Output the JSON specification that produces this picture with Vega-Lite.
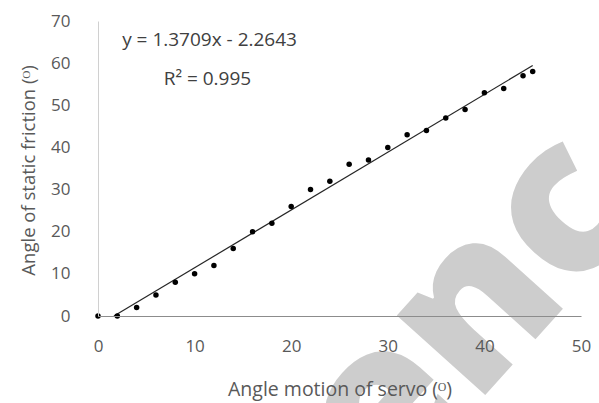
{
  "$schema": "https://vega.github.io/schema/vega-lite/v6.json",
  "width": 483,
  "height": 295,
  "autosize": "none",
  "padding": {"left": 98, "top": 21, "right": 18, "bottom": 87},
  "background": "white",
  "config": {"view": {"stroke": null}, "font": "Open Sans"},
  "datasets": {
    "points": [
      {"x": 0, "y": 0}, {"x": 2, "y": 0}, {"x": 4, "y": 2}, {"x": 6, "y": 5},
      {"x": 8, "y": 8}, {"x": 10, "y": 10}, {"x": 12, "y": 12}, {"x": 14, "y": 16},
      {"x": 16, "y": 20}, {"x": 18, "y": 22}, {"x": 20, "y": 26}, {"x": 22, "y": 30},
      {"x": 24, "y": 32}, {"x": 26, "y": 36}, {"x": 28, "y": 37}, {"x": 30, "y": 40},
      {"x": 32, "y": 43}, {"x": 34, "y": 44}, {"x": 36, "y": 47}, {"x": 38, "y": 49},
      {"x": 40, "y": 53}, {"x": 42, "y": 54}, {"x": 44, "y": 57}, {"x": 45, "y": 58}
    ],
    "trend": [{"x": 1.65, "y": 0}, {"x": 45, "y": 59.43}],
    "labels": [
      {"x": 2.5, "y": 65.5, "t": "y = 1.3709x - 2.2643"},
      {"x": 6.8, "y": 56.2, "t": "R² = 0.995"}
    ],
    "wm": [{"x": 38.5, "y": 0.3, "t": "enc"}]
  },
  "layer": [
    {
      "data": {"name": "wm"},
      "mark": {"type": "text", "angle": -48, "fontSize": 215, "fontWeight": 900, "font": "Open Sans", "color": "#cdcdcd", "align": "center", "baseline": "middle"},
      "encoding": {
        "x": {"field": "x", "type": "quantitative", "scale": {"domain": [0, 50], "nice": false}},
        "y": {"field": "y", "type": "quantitative", "scale": {"domain": [0, 70], "nice": false}},
        "text": {"field": "t"}
      }
    },
    {
      "data": {"name": "trend"},
      "mark": {"type": "line", "color": "#262626", "strokeWidth": 1.2},
      "encoding": {
        "x": {"field": "x", "type": "quantitative"},
        "y": {"field": "y", "type": "quantitative"}
      }
    },
    {
      "data": {"name": "points"},
      "mark": {"type": "circle", "color": "#000000", "opacity": 1, "size": 30},
      "encoding": {
        "x": {"field": "x", "type": "quantitative",
          "axis": {"title": "Angle motion of servo (ᴼ)", "values": [0, 10, 20, 30, 40, 50], "grid": false, "ticks": false, "tickSize": 0, "labelFlush": false,
            "labelPadding": 22, "labelFontSize": 17, "labelColor": "#595959", "labelFont": "Open Sans",
            "domainColor": "#8c8c8c", "domainWidth": 1,
            "titleFontSize": 19.5, "titleColor": "#595959", "titleFontWeight": "normal", "titleFont": "Open Sans",
            "titleY": 73, "titleBaseline": "middle", "zindex": 1}},
        "y": {"field": "y", "type": "quantitative",
          "axis": {"title": "Angle of static friction (ᴼ)", "values": [0, 10, 20, 30, 40, 50, 60, 70], "grid": false, "ticks": false, "tickSize": 0, "labelFlush": false,
            "labelPadding": 28, "labelFontSize": 17, "labelColor": "#595959", "labelFont": "Open Sans",
            "domainColor": "#d0d0d0", "domainWidth": 1,
            "titleFontSize": 18.5, "titleColor": "#595959", "titleFontWeight": "normal", "titleFont": "Open Sans",
            "titleX": -70, "titleY": 149, "titleBaseline": "middle", "zindex": 1}}
      }
    },
    {
      "data": {"name": "labels"},
      "mark": {"type": "text", "align": "left", "baseline": "middle", "fontSize": 19, "font": "Open Sans", "color": "#404040"},
      "encoding": {
        "x": {"field": "x", "type": "quantitative"},
        "y": {"field": "y", "type": "quantitative"},
        "text": {"field": "t"}
      }
    }
  ]
}
